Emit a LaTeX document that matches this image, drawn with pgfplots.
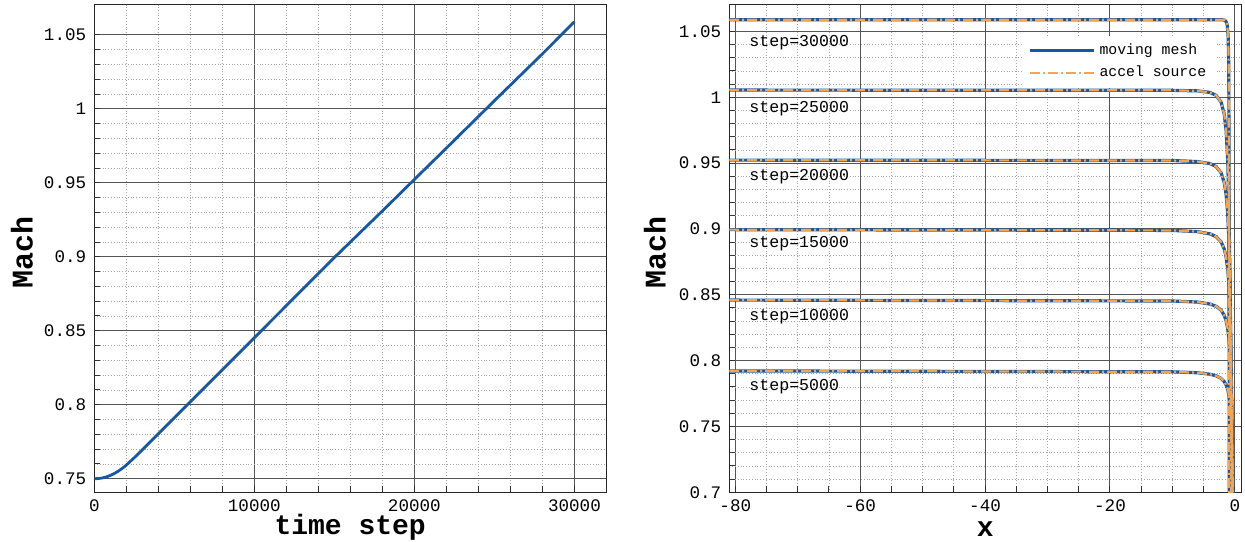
\documentclass[border=0pt]{standalone}
\usepackage{fontspec}
\setmainfont{Liberation Mono}
\usepackage{pgfplots}
\usepackage{pgfplotstable}
\pgfplotsset{compat=1.18}

\definecolor{mmblue}{RGB}{22,88,165}
\definecolor{acorange}{RGB}{245,165,80}
\definecolor{majgrid}{RGB}{85,85,85}
\definecolor{mingrid}{RGB}{165,165,165}

% Mach number history at the reference point
\pgfplotstableread{
step   mach
0      0.7500
250    0.7501
500    0.7505
750    0.7512
1000   0.7522
1250   0.7535
1500   0.7551
1750   0.7570
2000   0.7592
2500   0.7642
3000   0.7695
3500   0.7749
4000   0.7803
5000   0.7912
6000   0.8020
8000   0.8236
10000  0.8453
12000  0.8670
15000  0.8995
18000  0.9310
20000  0.9523
22000  0.9735
25000  1.0055
28000  1.0372
30000  1.0589
}\history

% Mach profiles along x at several steps
\pgfplotstableread{
x      s5000   s10000  s15000  s20000  s25000
-81    0.7922  0.8460  0.8995  0.9523  1.0055
-10    0.7915  0.8453  0.8989  0.9520  1.0053
-6     0.7908  0.8445  0.8980  0.9512  1.0049
-4     0.7897  0.8430  0.8963  0.9497  1.0037
-3     0.7885  0.8413  0.8942  0.9474  1.0015
-2.2   0.7865  0.8383  0.8902  0.9426  0.9963
-1.7   0.7841  0.8344  0.8847  0.9352  0.9871
-1.4   0.7815  0.8301  0.8786  0.9261  0.9745
-1.15  0.7782  0.8242  0.8697  0.9119  0.9528
-0.95  0.7738  0.8165  0.8575  0.8908  0.9171
-0.8   0.7688  0.8071  0.8422  0.8626  0.8650
-0.65  0.7610  0.7918  0.8162  0.8106  0.7594
-0.5   0.7471  0.7635  0.7660  0.7000  0.6200
-0.4   0.7306  0.7281  0.7000  0.6200  0.5600
-0.3   0.7000  0.6592  0.6200  0.5600  0.5300
-0.2   0.6295  0.5800  0.5500  0.5300  0.5100
0      0.5500  0.5000  0.5000  0.5000  0.5000
}\profiles

\pgfplotstableread{
x      s30000
-81    1.0589
-2.0   1.0589
-1.6   1.0585
-1.35  1.0570
-1.2   1.0540
-1.08  1.0460
-1.0   1.0300
-0.96  1.0000
-0.94  0.9000
-0.92  0.8000
-0.90  0.7000
-0.85  0.6000
0      0.5000
}\profilelast

\tikzset{steplabel/.style={anchor=west, font=\fontsize{8.3}{10}\selectfont, inner sep=0pt}}

\pgfplotsset{
  machframe/.style={
    scale only axis,
    width=255.9pt, height=243.7pt,
    axis line style={black!85, line width=0.6pt},
    grid=both,
    major grid style={majgrid, line width=0.5pt},
    minor grid style={mingrid, line width=0.4pt, densely dotted},
    tick align=inside,
    tick pos=left,
    major tick length=3pt,
    minor tick length=3pt,
    tick style={black!80, line width=0.5pt},
    ticklabel style={font=\fontsize{8.8}{10}\selectfont},
    /pgf/number format/assume math mode=true,
    scaled ticks=false,
    every axis y label/.style={at={(axis description cs:0,0.5)}, anchor=center,
      font=\fontsize{15}{17}\selectfont\bfseries},
    every axis x label/.style={at={(axis description cs:0.5,0)}, anchor=center,
      inner sep=0pt, font=\fontsize{14}{16}\selectfont\bfseries},
    ytick={0.7,0.75,0.8,0.85,0.9,0.95,1,1.05},
    yticklabels={0.7,0.75,0.8,0.85,0.9,0.95,1,1.05},
    minor y tick num=4,
    yticklabel style={xshift=-0.5pt},
    xticklabel style={yshift=-0.3pt},
  },
  mm/.style={mmblue, line width=1.6pt},
  ac/.style={acorange, line width=1.1pt, dash pattern=on 5pt off 1.5pt on 1pt off 1.5pt},
}

\begin{document}
\begin{tikzpicture}
\useasboundingbox (-47.15pt,-24.35pt) rectangle (575.35pt,246.15pt);

% Mach number against time step
\begin{axis}[
  machframe,
  at={(0pt,0pt)}, anchor=south west,
  xmin=0, xmax=31980,
  ymin=0.7408, ymax=1.0703,
  xtick={0,10000,20000,30000},
  xticklabels={0,10000,20000,30000},
  minor x tick num=4,
  xlabel={time step},
  ylabel={Mach},
  every axis y label/.append style={xshift=-36.2pt, yshift=-1.7pt, rotate=90},
  every axis x label/.append style={yshift=-17.5pt},
]
\addplot[mmblue, line width=1.4pt] table[x=step, y=mach] {\history};
\end{axis}

% Mach profiles along x
\begin{axis}[
  machframe,
  at={(317.5pt,0pt)}, anchor=south west,
  xmin=-80.96, xmax=1.0,
  ymin=0.7, ymax=1.0702,
  xtick={-80,-60,-40,-20,0},
  xticklabels={-80,-60,-40,-20,0},
  minor x tick num=3,
  xlabel={x},
  ylabel={Mach},
  every axis y label/.append style={xshift=-37.2pt, yshift=-1.7pt, rotate=90},
  every axis x label/.append style={yshift=-18.2pt},
  legend image code/.code={\draw[#1] (0pt,0pt) -- (32pt,0pt);},
  legend cell align=left,
  legend style={at={(0.952,0.938)}, anchor=north east, fill=white, draw=none,
    font=\fontsize{7.4}{8}\selectfont, row sep=0.5pt},
]
\addplot[mm] table[x=x, y=s5000] {\profiles};
\addlegendentry{moving mesh}
\addplot[mm, forget plot] table[x=x, y=s10000] {\profiles};
\addplot[mm, forget plot] table[x=x, y=s15000] {\profiles};
\addplot[mm, forget plot] table[x=x, y=s20000] {\profiles};
\addplot[mm, forget plot] table[x=x, y=s25000] {\profiles};
\addplot[mm, forget plot] table[x=x, y=s30000] {\profilelast};
\addplot[ac] table[x=x, y=s5000] {\profiles};
\addlegendentry{accel source}
\addplot[ac, forget plot] table[x=x, y=s10000] {\profiles};
\addplot[ac, forget plot] table[x=x, y=s15000] {\profiles};
\addplot[ac, forget plot] table[x=x, y=s20000] {\profiles};
\addplot[ac, forget plot] table[x=x, y=s25000] {\profiles};
\addplot[ac, forget plot] table[x=x, y=s30000] {\profilelast};

\node[steplabel] at (axis cs:-77.8,1.0412) {step=30000};
\node[steplabel] at (axis cs:-77.8,0.9917) {step=25000};
\node[steplabel] at (axis cs:-77.8,0.9399) {step=20000};
\node[steplabel] at (axis cs:-77.8,0.8889) {step=15000};
\node[steplabel] at (axis cs:-77.8,0.8334) {step=10000};
\node[steplabel] at (axis cs:-77.8,0.7799) {step=5000};
\end{axis}
\end{tikzpicture}
\end{document}
